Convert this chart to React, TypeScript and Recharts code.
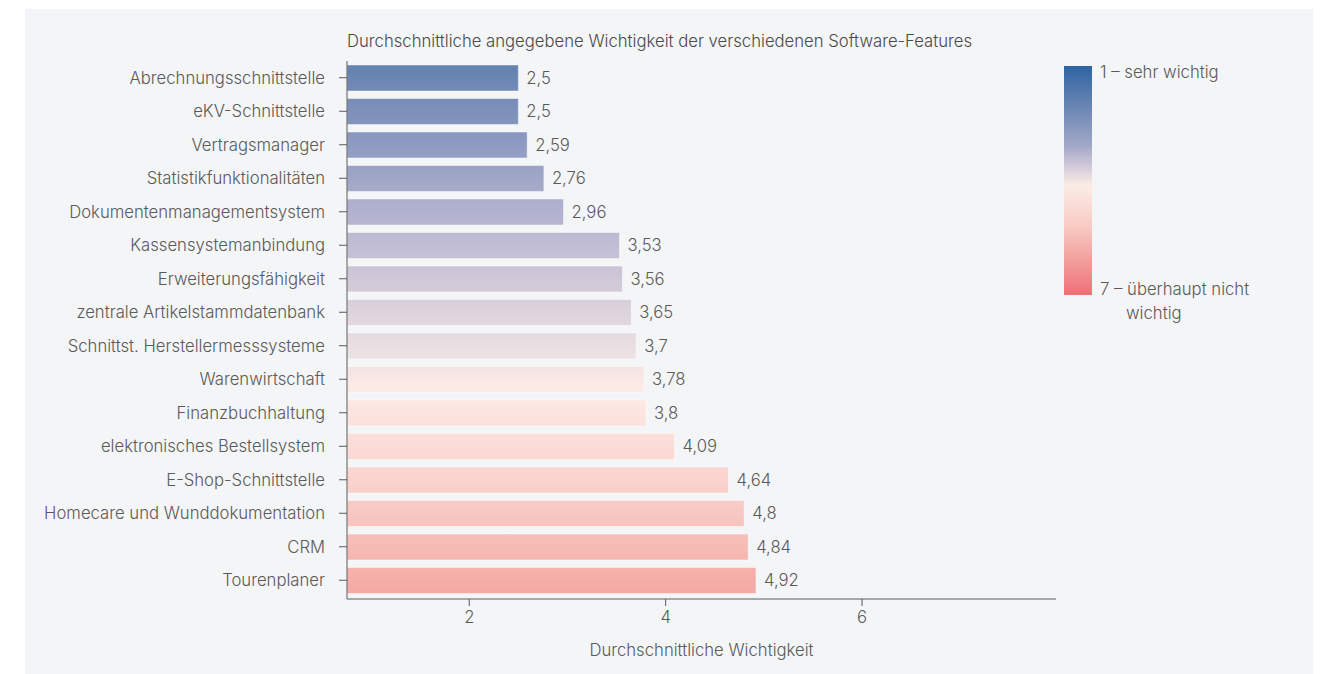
// Horizontal bar chart: average stated importance of software features.
// One vertical gradient runs across all bars, colour bar legend on the right.

import React from 'react';
import { BarChart, Bar, XAxis, YAxis, LabelList } from 'recharts';

const features = [
  'Abrechnungsschnittstelle',
  'eKV-Schnittstelle',
  'Vertragsmanager',
  'Statistikfunktionalitäten',
  'Dokumentenmanagementsystem',
  'Kassensystemanbindung',
  'Erweiterungsfähigkeit',
  'zentrale Artikelstammdatenbank',
  'Schnittst. Herstellermesssysteme',
  'Warenwirtschaft',
  'Finanzbuchhaltung',
  'elektronisches Bestellsystem',
  'E-Shop-Schnittstelle',
  'Homecare und Wunddokumentation',
  'CRM',
  'Tourenplaner',
];

const importance = [2.5, 2.5, 2.59, 2.76, 2.96, 3.53, 3.56, 3.65, 3.7, 3.78, 3.8, 4.09, 4.64, 4.8, 4.84, 4.92];

const xTicks = [2, 4, 6];

const data = features.map((name, i) => ({ name, value: importance[i] }));

const FONT = 'Inter, "Noto Sans", sans-serif';
const TEXT = '#5a5a5a';
const FS = 16.7;
const FW = 300;

const fmt = (v: any) => String(v).replace('.', ',');

export default function App() {
  return (
    <div style={{ position: 'absolute', left: 0, top: 0, width: 1326, height: 674, background: '#fff', fontFamily: FONT, fontWeight: FW }}>
      <div style={{ position: 'absolute', left: 25, top: 9, width: 1288, height: 665, background: '#f4f5f7' }} />

      <div style={{ position: 'absolute', left: 347, top: 31, fontSize: FS, color: '#4a4a4a', whiteSpace: 'nowrap' }}>
        Durchschnittliche angegebene Wichtigkeit der verschiedenen Software-Features
      </div>

      <div style={{ position: 'absolute', left: 0, top: 0 }}>
        <BarChart
          width={1326}
          height={674}
          data={data}
          layout="vertical"
          margin={{ top: 61, right: 270, bottom: 45, left: 0 }}
          barSize={26}
        >
          <defs>
            <linearGradient id="barGrad" gradientUnits="userSpaceOnUse" x1="0" y1="62" x2="0" y2="597">
              <stop offset="0%" stopColor="#6281af" />
              <stop offset="12%" stopColor="#8595be" />
              <stop offset="28%" stopColor="#b1b2cf" />
              <stop offset="42%" stopColor="#d3cad9" />
              <stop offset="55%" stopColor="#ede2e3" />
              <stop offset="61%" stopColor="#fdebe6" />
              <stop offset="80%" stopColor="#f9d1cb" />
              <stop offset="100%" stopColor="#f4a7a1" />
            </linearGradient>
          </defs>
          <XAxis
            type="number"
            domain={[0.755, 7.975]}
            ticks={xTicks}
            tick={{ fill: TEXT, fontSize: FS, fontFamily: FONT, fontWeight: FW }}
            stroke="#5a5a5a"
            tickSize={7}
            tickMargin={5}
            height={30}
            label={{
              value: 'Durchschnittliche Wichtigkeit',
              position: 'insideBottom',
              offset: -27,
              fill: TEXT,
              fontSize: FS,
              fontFamily: FONT,
              fontWeight: FW,
            }}
          />
          <YAxis
            type="category"
            dataKey="name"
            width={347}
            tick={{ fill: TEXT, fontSize: FS, fontFamily: FONT, fontWeight: FW }}
            stroke="#5a5a5a"
            tickSize={8}
            tickMargin={14}
            padding={{ top: 0, bottom: 2 }}
          />
          <Bar
            dataKey="value"
            fill="url(#barGrad)"
            stroke="rgba(255,255,255,0.45)"
            strokeWidth={1}
            isAnimationActive={false}
          >
            <LabelList
              dataKey="value"
              position="right"
              offset={8}
              formatter={fmt}
              fill={TEXT}
              fontSize={FS}
              fontFamily={FONT}
              fontWeight={FW}
            />
          </Bar>
        </BarChart>
      </div>

      {/* colour scale legend */}
      <div
        style={{
          position: 'absolute',
          left: 1064,
          top: 66,
          width: 28,
          height: 229,
          background:
            'linear-gradient(to bottom, #2d64a1 0%, #6a86b4 18%, #a3a8c8 35%, #dcd3dc 46%, #fcece6 52%, #f9cfc8 68%, #f3a19e 84%, #ef6f76 100%)',
        }}
      />
      <div style={{ position: 'absolute', left: 1100, top: 62, fontSize: FS, color: TEXT, whiteSpace: 'nowrap' }}>
        1 – sehr wichtig
      </div>
      <div style={{ position: 'absolute', left: 1100, top: 277, fontSize: FS, color: TEXT, lineHeight: '24px' }}>
        7 – überhaupt nicht
        <br />
        <span style={{ paddingLeft: 26 }}>wichtig</span>
      </div>
    </div>
  );
}
